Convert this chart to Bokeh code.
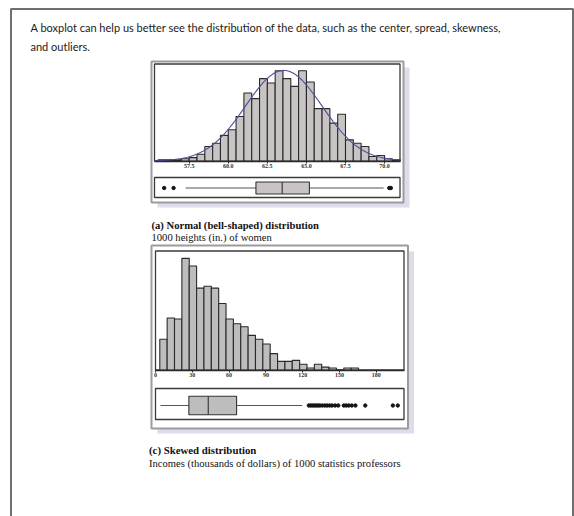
import math
from bokeh.plotting import figure
from bokeh.models import Range1d, LinearAxis, FixedTicker
from bokeh.core.properties import value
from bokeh.embed import file_html
from bokeh.resources import INLINE

# ---------------- data ----------------
intro_lines = [
    "A boxplot can help us better see the distribution of the data, such as the center, spread, skewness,",
    "and outliers.",
]
height_title = "(a) Normal (bell-shaped) distribution"
height_subtitle = "1000 heights (in.) of women"
income_title = "(c) Skewed distribution"
income_subtitle = "Incomes (thousands of dollars) of 1000 statistics professors"

# (a) heights of 1000 women, bins of 0.5 in. starting at 55.5
height_bin_start = 55.5
height_bin_width = 0.5
height_counts = [1, 1, 1, 2, 3, 6, 13, 16, 23, 28, 40, 61, 56, 74, 70, 81,
                 74, 67, 81, 71, 47, 47, 34, 42, 19, 16, 13, 4, 5, 2, 1]
height_ticks = [57.5, 60.0, 62.5, 65.0, 67.5, 70.0]
height_tick_labels = ["57.5", "60.0", "62.5", "65.0", "67.5", "70.0"]
height_fit_mean = 63.55
height_fit_sd = 2.45
height_whiskers = [57.27, 69.94]
height_quartiles = [61.77, 63.45, 65.19]          # Q1, median, Q3
height_outliers = [55.9, 56.5, 70.3, 70.4]

# (c) incomes of 1000 statistics professors, bins of 6 starting at 3.5
income_bin_start = 3.5
income_bin_width = 6.0
income_counts = [32, 54, 53, 116, 108, 85, 87, 85, 69, 53, 48, 45, 36, 32,
                 27, 17, 9, 9, 10, 6, 2, 6, 3, 2, 0, 2, 2]
income_ticks = [0, 30, 60, 90, 120, 150, 180]
income_tick_labels = ["0", "30", "60", "90", "120", "150", "180"]
income_whiskers = [4.1, 119.7]
income_quartiles = [27.2, 43.0, 66.1]              # Q1, median, Q3
income_outliers = [125, 126.5, 128, 129.5, 131, 132.5, 134, 136, 138, 140,
                   142, 144, 146.5, 149, 153.5, 155.5, 157.5, 160, 163, 171,
                   193.5, 197.5]

# ---------------- layout (page pixels) ----------------
W, H = 574, 516
X0, Y0 = 0, 0

# panel (a)
A_OUT = (151, 61, 403, 202)          # left, top, right, bottom
A_PLOT = (154, 63.5, 399.5, 160.5)
A_BOX = (154, 177, 399.5, 197)
A_BOXY = 187.5
A_XREF, A_VREF, A_PXU = 188.7, 57.5, 15.63   # px of value, value, px per unit
A_CPX = 1.1137                                 # px per count

# panel (c)
C_OUT = (151, 245, 407.5, 428)
C_PLOT = (155, 250.5, 403.5, 369.5)
C_BOX = (155, 388, 403.5, 419)
C_BOXY = 405
C_XREF, C_VREF, C_PXU = 155.0, 0.0, 1.2267
C_CPX = 0.9627

SERIF = "Liberation Serif"
SANS = "Lato"

p = figure(width=W, height=H,
           x_range=Range1d(X0, X0 + W), y_range=Range1d(Y0 + H, Y0),
           x_axis_type=None, y_axis_type=None,
           toolbar_location=None, output_backend="svg", min_border=0,
           outline_line_color=None, background_fill_color="white",
           border_fill_color="white")


def to_val(px, ref_px, ref_v, pxu):
    return ref_v + (px - ref_px) / pxu


p.extra_x_ranges["hx"] = Range1d(to_val(X0, A_XREF, A_VREF, A_PXU),
                                 to_val(X0 + W, A_XREF, A_VREF, A_PXU))
p.extra_y_ranges["hy"] = Range1d((A_PLOT[3] - (Y0 + H)) / A_CPX,
                                 (A_PLOT[3] - Y0) / A_CPX)
p.extra_x_ranges["cx"] = Range1d(to_val(X0, C_XREF, C_VREF, C_PXU),
                                 to_val(X0 + W, C_XREF, C_VREF, C_PXU))
p.extra_y_ranges["cy"] = Range1d((C_PLOT[3] - (Y0 + H)) / C_CPX,
                                 (C_PLOT[3] - Y0) / C_CPX)

# slide frame
p.quad(left=[10.5], right=[572.5], top=[8.5], bottom=[H + 20],
       fill_color=None, line_color="#6f6f6f", line_width=2)

# intro text
p.text(x=[30, 30], y=[27, 45.5], text=intro_lines, text_font=value(SANS),
       text_font_size="11px", text_baseline="middle", text_color="#1a1a1a")


def panel(out, plot, box, boxy, xr, yr, xref, vref, pxu, bin_start, bin_w,
          counts, ticks, tick_labels, whiskers, quartiles, outliers, fill):
    # shadow + outer box
    p.quad(left=[out[0] + 6], right=[out[2] + 6], top=[out[1] + 6],
           bottom=[out[3] + 5], fill_color="#dcdcea", line_color=None)
    p.quad(left=[out[0]], right=[out[2]], top=[out[1]], bottom=[out[3]],
           fill_color="white", line_color="#9c9c9c", line_width=2)
    # histogram frame
    p.quad(left=[plot[0]], right=[plot[2]], top=[plot[1]], bottom=[plot[3]],
           fill_color=None, line_color="#3a3a3a", line_width=1.3)
    # bars
    lefts = [bin_start + i * bin_w for i in range(len(counts))]
    rights = [l + bin_w for l in lefts]
    p.quad(left=lefts, right=rights, bottom=0, top=counts,
           x_range_name=xr, y_range_name=yr, fill_color=fill,
           line_color="#2a2a2a", line_width=1.1)
    # x axis
    ax = LinearAxis(x_range_name=xr, ticker=FixedTicker(ticks=ticks),
                    major_label_overrides=dict(zip(ticks, tick_labels)),
                    fixed_location=plot[3],
                    bounds=(to_val(plot[0], xref, vref, pxu),
                            to_val(plot[2], xref, vref, pxu)),
                    axis_line_color="#2a2a2a", axis_line_width=1.3,
                    major_tick_line_color="#2a2a2a", major_tick_in=0,
                    major_tick_out=2, minor_tick_line_color=None,
                    major_label_standoff=1,
                    major_label_text_font=SERIF,
                    major_label_text_font_style="bold",
                    major_label_text_font_size="6px",
                    major_label_text_color="#333333")
    p.add_layout(ax, "below")
    # boxplot frame
    p.quad(left=[box[0]], right=[box[2]], top=[box[1]], bottom=[box[3]],
           fill_color=None, line_color="#3a3a3a", line_width=1.3)
    # whiskers, box, median, outliers
    p.segment(x0=[whiskers[0]], x1=[whiskers[1]], y0=[boxy], y1=[boxy],
              x_range_name=xr, line_color="#555555", line_width=1.1)
    half = (box[3] - box[1]) * 0.3
    p.quad(left=[quartiles[0]], right=[quartiles[2]], top=[boxy - half],
           bottom=[boxy + half], x_range_name=xr, fill_color=fill,
           line_color="#333333", line_width=1.1)
    p.segment(x0=[quartiles[1]], x1=[quartiles[1]], y0=[boxy - half],
              y1=[boxy + half], x_range_name=xr, line_color="#333333",
              line_width=1.1)
    p.scatter(x=outliers, y=[boxy] * len(outliers), x_range_name=xr,
              marker="circle", size=3.4, color="#151515")


panel(A_OUT, A_PLOT, A_BOX, A_BOXY, "hx", "hy", A_XREF, A_VREF, A_PXU,
      height_bin_start, height_bin_width, height_counts, height_ticks,
      height_tick_labels, height_whiskers, height_quartiles, height_outliers,
      "#c8c4c3")
panel(C_OUT, C_PLOT, C_BOX, C_BOXY, "cx", "cy", C_XREF, C_VREF, C_PXU,
      income_bin_start, income_bin_width, income_counts, income_ticks,
      income_tick_labels, income_whiskers, income_quartiles, income_outliers,
      "#bdbdbd")

# fitted normal curve over histogram (a)
n_total = sum(height_counts)
lo = to_val(A_PLOT[0] + 1, A_XREF, A_VREF, A_PXU)
hi = to_val(A_PLOT[2] - 1, A_XREF, A_VREF, A_PXU)
curve_x = [lo + (hi - lo) * i / 200 for i in range(201)]
curve_y = [n_total * height_bin_width *
           math.exp(-((x - height_fit_mean) ** 2) / (2 * height_fit_sd ** 2)) /
           (height_fit_sd * math.sqrt(2 * math.pi)) for x in curve_x]
p.line(curve_x, curve_y, x_range_name="hx", y_range_name="hy",
       line_color="#4d4f9e", line_width=1.1)

# captions
p.text(x=[151], y=[225], text=[height_title], text_font=value(SERIF),
       text_font_style="bold", text_font_size="10.6px",
       text_baseline="middle", text_color="#111111")
p.text(x=[151], y=[236.5], text=[height_subtitle], text_font=value(SERIF),
       text_font_size="10.6px", text_baseline="middle", text_color="#111111")
p.text(x=[148.5], y=[449], text=[income_title], text_font=value(SERIF),
       text_font_style="bold", text_font_size="10.8px",
       text_baseline="middle", text_color="#111111")
p.text(x=[148.5], y=[462.5], text=[income_subtitle], text_font=value(SERIF),
       text_font_size="10.6px", text_baseline="middle", text_color="#111111")

open("out.html", "w").write(file_html(p, INLINE))
